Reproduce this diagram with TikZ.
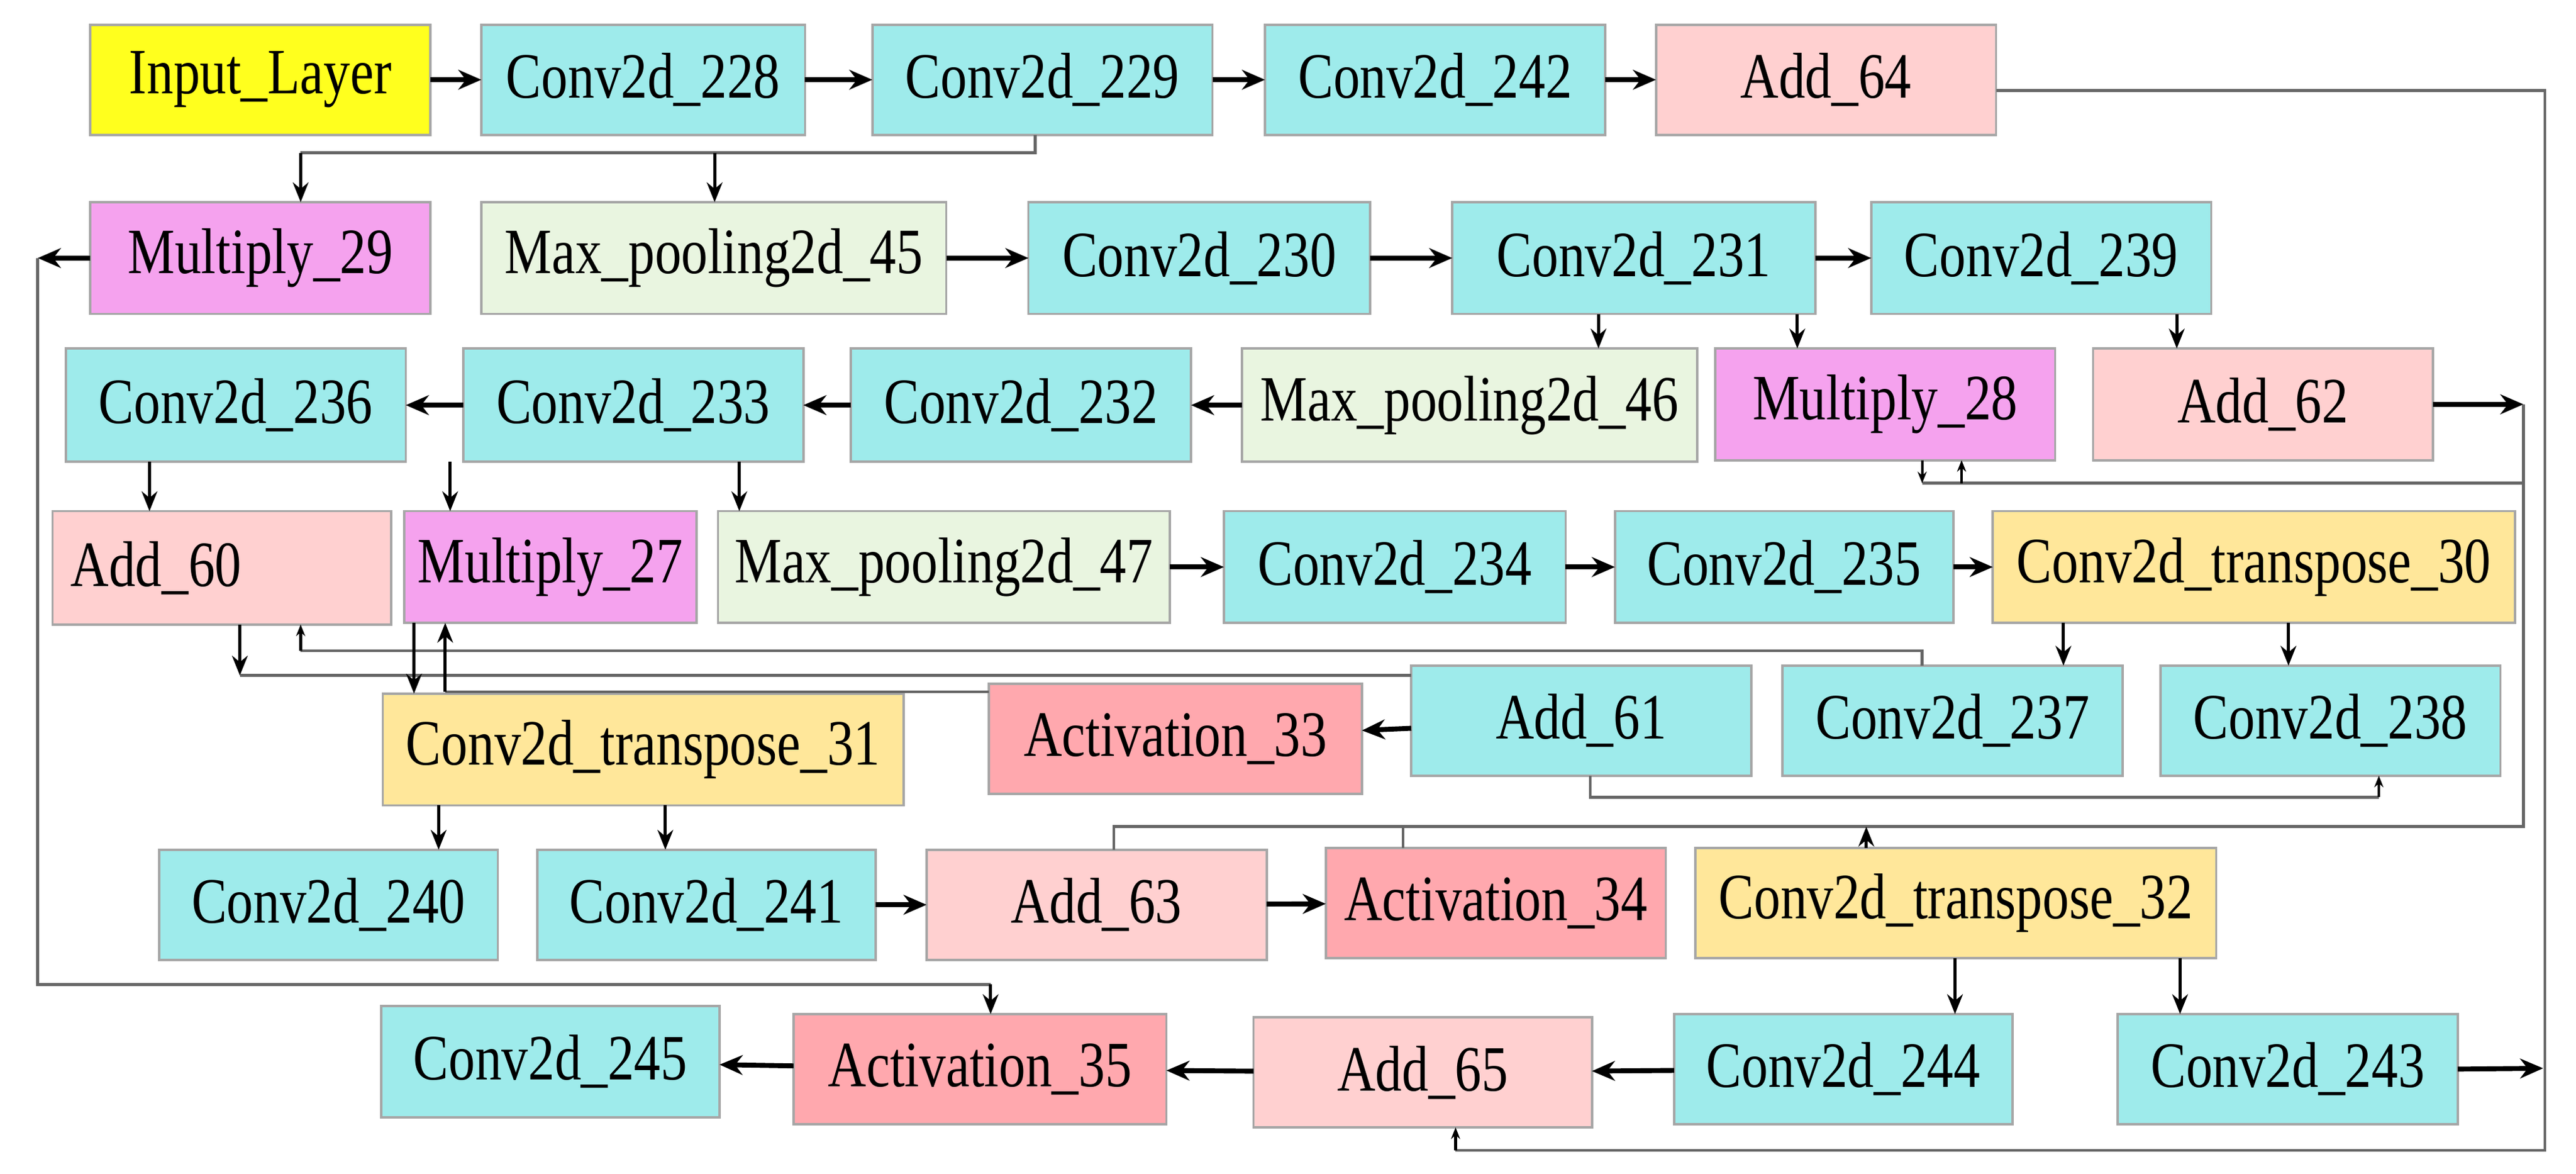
\documentclass[tikz,border=0pt]{standalone}
\usepackage{fontspec}
\setmainfont{Liberation Serif}[FakeStretch=0.82]
\usetikzlibrary{arrows.meta}
\definecolor{ccyan}{HTML}{9EEBEB}
\definecolor{cyel}{HTML}{FFFF1E}
\definecolor{cpink}{HTML}{FFD0D0}
\definecolor{cmag}{HTML}{F5A2EE}
\definecolor{cgrn}{HTML}{E9F5E0}
\definecolor{corg}{HTML}{FFE79A}
\definecolor{cred}{HTML}{FFA8AE}
\tikzset{
  bxs/.style={draw=gray!70, line width=0.4pt, inner sep=0pt, outer sep=0pt, font=\fontsize{11.2}{12}\selectfont},
  arr/.style={line width=0.85pt, -{Stealth[length=1.4mm,width=1.2mm]}},
  tarr/.style={line width=0.55pt, -{Stealth[length=1.2mm,width=0.95mm]}},
  sarr/.style={line width=0.45pt, -{Stealth[length=0.7mm,width=0.55mm]}},
  gl/.style={line width=0.5pt, draw=gray!80!black},
}
\newcommand\bx[7]{\node[bxs, fill=#6, minimum width={(#4-#2)*0.1mm}, minimum height={(#5-#3)*0.1mm}] (#1) at ({(#2+#4)/2},{(#3+#5)/2}) {#7};}
\begin{document}
\begin{tikzpicture}[x=0.1mm,y=-0.1mm]
\useasboundingbox (0,0) rectangle (1568,714);
% row 1
\bx{in}{55}{15}{262}{82}{cyel}{Input\_Layer}
\bx{c228}{293}{15}{490}{82}{ccyan}{Conv2d\_228}
\bx{c229}{531}{15}{738}{82}{ccyan}{Conv2d\_229}
\bx{c242}{770}{15}{977}{82}{ccyan}{Conv2d\_242}
\bx{a64}{1008}{15}{1215}{82}{cpink}{Add\_64}
% row 2
\bx{m29}{55}{123}{262}{191}{cmag}{Multiply\_29}
\bx{mp45}{293}{123}{576}{191}{cgrn}{Max\_pooling2d\_45}
\bx{c230}{626}{123}{834}{191}{ccyan}{Conv2d\_230}
\bx{c231}{884}{123}{1105}{191}{ccyan}{Conv2d\_231}
\bx{c239}{1139}{123}{1346}{191}{ccyan}{Conv2d\_239}
% row 3
\bx{c236}{40}{212}{247}{281}{ccyan}{Conv2d\_236}
\bx{c233}{282}{212}{489}{281}{ccyan}{Conv2d\_233}
\bx{c232}{518}{212}{725}{281}{ccyan}{Conv2d\_232}
\bx{mp46}{756}{212}{1033}{281}{cgrn}{Max\_pooling2d\_46}
\bx{m28}{1044}{212}{1251}{280}{cmag}{Multiply\_28}
\bx{a62}{1274}{212}{1481}{280}{cpink}{Add\_62}
% row 4
\bx{a60}{32}{311}{238}{380}{cpink}{Add\_60\hspace*{8mm}}
\bx{m27}{246}{311}{424}{379}{cmag}{Multiply\_27}
\bx{mp47}{437}{311}{712}{379}{cgrn}{Max\_pooling2d\_47}
\bx{c234}{745}{311}{953}{379}{ccyan}{Conv2d\_234}
\bx{c235}{983}{311}{1189}{379}{ccyan}{Conv2d\_235}
\bx{ct30}{1213}{311}{1531}{379}{corg}{Conv2d\_transpose\_30}
% row 5
\bx{ct31}{233}{422}{550}{490}{corg}{Conv2d\_transpose\_31}
\bx{act33}{602}{416}{829}{483}{cred}{Activation\_33}
\bx{a61}{859}{405}{1066}{472}{ccyan}{Add\_61}
\bx{c237}{1085}{405}{1292}{472}{ccyan}{Conv2d\_237}
\bx{c238}{1315}{405}{1522}{472}{ccyan}{Conv2d\_238}
% row 6
\bx{c240}{97}{517}{303}{584}{ccyan}{Conv2d\_240}
\bx{c241}{327}{517}{533}{584}{ccyan}{Conv2d\_241}
\bx{a63}{564}{517}{771}{584}{cpink}{Add\_63}
\bx{act34}{807}{516}{1014}{583}{cred}{Activation\_34}
\bx{ct32}{1032}{516}{1349}{583}{corg}{Conv2d\_transpose\_32}
% row 7
\bx{c245}{232}{612}{438}{680}{ccyan}{Conv2d\_245}
\bx{act35}{483}{617}{710}{684}{cred}{Activation\_35}
\bx{a65}{763}{619}{969}{686}{cpink}{Add\_65}
\bx{c244}{1019}{617}{1225}{684}{ccyan}{Conv2d\_244}
\bx{c243}{1289}{617}{1496}{684}{ccyan}{Conv2d\_243}
% coordinates
\coordinate (lm) at (23,157);
\coordinate (ra) at (1536,246);
\coordinate (rc) at (1548,650);
% thick horizontal arrows
\draw[arr] (in) -- (c228);
\draw[arr] (c228) -- (c229);
\draw[arr] (c229) -- (c242);
\draw[arr] (c242) -- (a64);
\draw[arr] (m29) -- (lm);
\draw[arr] (mp45) -- (c230);
\draw[arr] (c230) -- (c231);
\draw[arr] (c231) -- (c239);
\draw[arr] (c233) -- (c236);
\draw[arr] (c232) -- (c233);
\draw[arr] (mp46) -- (c232);
\draw[arr] (a62.east) -- (ra);
\draw[arr] (mp47) -- (c234);
\draw[arr] (c234) -- (c235);
\draw[arr] (c235) -- (ct30);
\draw[arr] (a61) -- (act33);
\draw[arr] (c241) -- (a63);
\draw[arr] (a63) -- (act34);
\draw[arr] (act35) -- (c245);
\draw[arr] (a65) -- (act35);
\draw[arr] (c244) -- (a65);
\draw[arr] (c243.east) -- (rc);
% row1 -> row2
\draw[gl] (c229.south -| 630,0) -- (630,93) -- (183,93);
\draw[tarr] (183,93) -- (m29.north -| 183,0);
\draw[tarr] (435,93) -- (mp45.north -| 435,0);
% row2 -> row3
\draw[tarr] (c231.south -| 973,0) -- (mp46.north -| 973,0);
\draw[tarr] (c231.south -| 1094,0) -- (m28.north -| 1094,0);
\draw[tarr] (c239.south -| 1325,0) -- (a62.north -| 1325,0);
% row3 -> row4
\draw[tarr] (c236.south -| 91,0) -- (a60.north -| 91,0);
\draw[tarr] (274,281) -- (m27.north -| 274,0);
\draw[tarr] (c233.south -| 450,0) -- (mp47.north -| 450,0);
% row4 -> row5
\draw[tarr] (a60.south -| 146,0) -- (146,411);
\draw[gl] (146,411) -- (a61.west |- 0,411);
\draw[gl] (c237.north -| 1170,0) -- (1170,396) -- (183,396);
\draw[sarr] (183,396) -- (a60.south -| 183,0);
\draw[tarr] (m27.south -| 252,0) -- (ct31.north -| 252,0);
\draw[gl] (act33.west |- 0,421) -- (271,421);
\draw[tarr] (271,421) -- (m27.south -| 271,0);
\draw[tarr] (ct30.south -| 1256,0) -- (c237.north -| 1256,0);
\draw[tarr] (ct30.south -| 1393,0) -- (c238.north -| 1393,0);
\draw[gl] (a61.south -| 968,0) -- (968,485) -- (1448,485);
\draw[sarr] (1448,485) -- (c238.south -| 1448,0);
% row5 -> row6
\draw[tarr] (ct31.south -| 267,0) -- (c240.north -| 267,0);
\draw[tarr] (ct31.south -| 405,0) -- (c241.north -| 405,0);
\draw[tarr] (ct32.south -| 1190,0) -- (c244.north -| 1190,0);
\draw[tarr] (ct32.south -| 1327,0) -- (c243.north -| 1327,0);
% right side loops
\draw[gl] (ra) -- (1536,503) -- (678,503) -- (a63.north -| 678,0);
\draw[gl] (854,503) -- (act34.north -| 854,0);
\draw[tarr] (ct32.north -| 1136,0) -- (1136,503);
\draw[gl] (1536,294) -- (1170,294);
\draw[sarr] (m28.south -| 1170,0) -- (1170,294);
\draw[sarr] (1194,294) -- (m28.south -| 1194,0);
\draw[gl] (a64.east |- 0,55) -- (1549,55) -- (1549,700) -- (886,700);
\draw[sarr] (886,700) -- (a65.south -| 886,0);
\draw[gl] (lm) -- (23,599) -- (603,599);
\draw[tarr] (603,599) -- (act35.north -| 603,0);
\end{tikzpicture}
\end{document}
